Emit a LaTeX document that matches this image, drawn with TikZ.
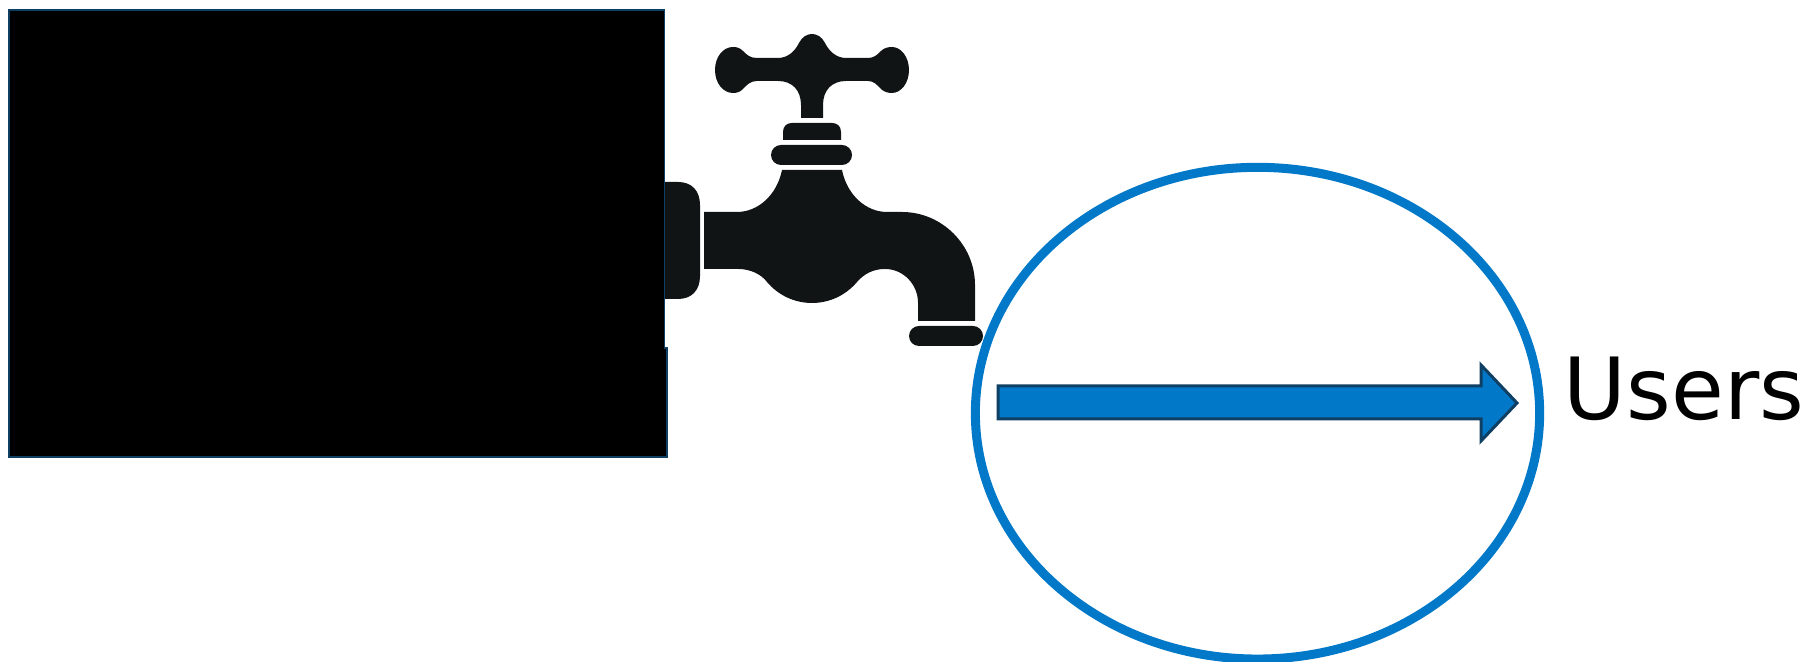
\documentclass[tikz,border=0pt]{standalone}
\usepackage{fontspec}
\setmainfont{DejaVu Sans}
\usetikzlibrary{shapes.geometric}
\definecolor{tapblack}{HTML}{111415}
\definecolor{ringblue}{HTML}{0279C8}
\definecolor{edgeblue}{HTML}{0F3F63}
\tikzset{
  tap/.style={fill=tapblack,draw=none},
  tank/.style={fill=black,draw=edgeblue,line width=2pt*0.2845},
}
\begin{document}
\begin{tikzpicture}[x=0.01cm,y=-0.01cm]
\useasboundingbox (0,0) rectangle (1809,662);
\clip (0,0) rectangle (1809,662);
% tank
\path[tank] (9,10) -- (665,10) -- (665,348) -- (667,348) -- (667,457) -- (9,457) -- cycle;
\path[fill=white] (665,0) rectangle (670,347);
% wall flange
\path[tap] (665,182) -- (678,182) .. controls (692,182) and (700,191) .. (700,205)
  -- (700,276) .. controls (700,290) and (692,299) .. (678,299) -- (665,299) -- cycle;
% spout
\path[tap] (704,212) -- (737,212)
  .. controls (758,212) and (777,195) .. (782,170) -- (842,170)
  .. controls (847,195) and (866,212) .. (887,212) -- (902,212)
  .. controls (942,212) and (975,245) .. (975,285) -- (975,321) -- (918,321) -- (918,303)
  .. controls (918,284) and (903,269) .. (885,269)
  .. controls (873,269) and (864,274) .. (857,282)
  .. controls (846,295) and (830,303) .. (812,303)
  .. controls (794,303) and (778,295) .. (767,282)
  .. controls (761,274) and (750,269) .. (738,269) -- (704,269) -- cycle;
% collars
\path[tap] (783,140) -- (783,132) .. controls (783,126) and (787,123) .. (792,123) -- (832,123)
  .. controls (837,123) and (841,126) .. (841,132) -- (841,140) -- cycle;
\path[tap,rounded corners=10*0.2845pt] (771,145) rectangle (852,165);
\path[tap,rounded corners=10*0.2845pt] (909,326) rectangle (983,346);
% handle
\path[tap] (801,118) -- (801,105)
  .. controls (801,90) and (792,81) .. (778,81) -- (757,81)
  .. controls (750,81) and (747,85) .. (743,89)
  .. controls (740,92) and (737,93) .. (733,93)
  .. controls (723,93) and (715,83) .. (715,70)
  .. controls (715,57) and (723,47) .. (733,47)
  .. controls (737,47) and (740,48) .. (743,51)
  .. controls (747,55) and (750,58) .. (757,58) -- (778,58)
  .. controls (788,58) and (795,51) .. (799,43)
  .. controls (802,37) and (807,34) .. (812,34)
  .. controls (817,34) and (822,37) .. (825,43)
  .. controls (829,51) and (836,58) .. (846,58) -- (868,58)
  .. controls (874,58) and (877,55) .. (881,51)
  .. controls (884,48) and (888,47) .. (892,47)
  .. controls (901,47) and (909,57) .. (909,70)
  .. controls (909,83) and (901,93) .. (892,93)
  .. controls (888,93) and (884,92) .. (881,89)
  .. controls (877,85) and (874,81) .. (868,81) -- (846,81)
  .. controls (832,81) and (823,90) .. (823,105) -- (823,118) -- cycle;
% ring
\node[ellipse,draw=ringblue,line width=9*0.2845pt,minimum width=564*0.2845pt,minimum height=491.5*0.2845pt,inner sep=0pt,outer sep=0pt] (ring) at (1257.5,413.2) {};
% flow arrow
\path[fill=ringblue,draw=edgeblue,line width=3*0.2845pt,line join=miter] (998,386) -- (1481,386) -- (1481,365) -- (1517,403) -- (1481,441) -- (1481,419) -- (998,419) -- cycle;
% label
\node[anchor=base west,inner sep=0pt,font=\fontsize{24.4pt}{29pt}\selectfont] (users) at (1563,420) {Users};
\end{tikzpicture}
\end{document}
